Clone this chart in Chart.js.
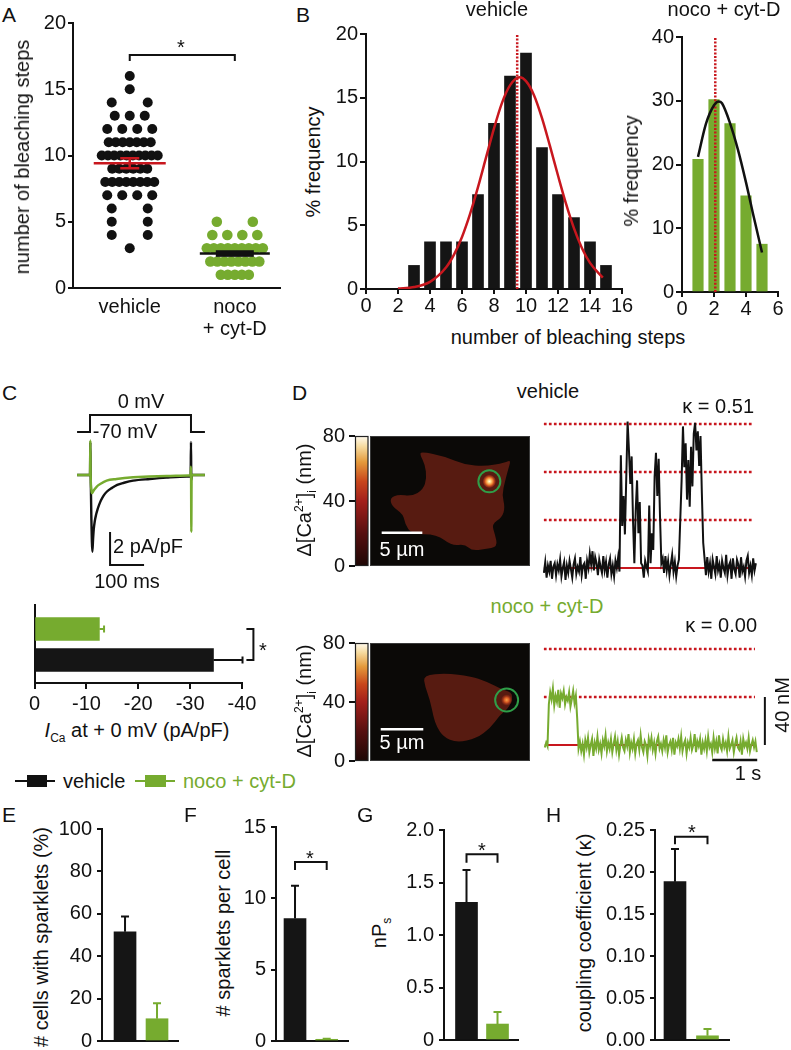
<!DOCTYPE html>
<html lang="en">
<head>
<meta charset="UTF-8">
<title>Bleaching steps, I(Ca) and sparklet coupling</title>
<script src="https://cdn.jsdelivr.net/npm/chart.js"></script>
<style>
    body { margin: 0; background: #fff; }
    #fig {
        position: relative; width: 791px; height: 1050px; overflow: hidden;
        font-family: 'Liberation Sans', Arial, Helvetica, sans-serif; color: #111;
    }
    #fig canvas { position: absolute; z-index: 1; }
    .t, .pl, .leg { position: absolute; z-index: 2; white-space: nowrap; line-height: 1; }
    .t { font-size: 20px; transform: translate(-50%, -50%); }
    .t.l { transform: translate(0, -50%); }
    .t.r { transform: translate(-100%, -50%); }
    .t.rot { transform: translate(-50%, -50%) rotate(-90deg); }
    .pl { font-size: 21px; }
    .g { color: #76ab2f; }
    .w { color: #fff; }
    sub, sup { font-size: 12px; line-height: 0; }
</style>
</head>
<body>
<div id="fig">
    <div class="pl" style="left:2px;top:4px">A</div>
    <div class="pl" style="left:296px;top:4px">B</div>
    <div class="pl" style="left:2px;top:382px">C</div>
    <div class="pl" style="left:292px;top:382px">D</div>
    <div class="pl" style="left:2px;top:804px">E</div>
    <div class="pl" style="left:184px;top:804px">F</div>
    <div class="pl" style="left:357px;top:804px">G</div>
    <div class="pl" style="left:546px;top:804px">H</div>

    <!-- A / B -->
    <div class="t rot" style="left:22px;top:157px">number of bleaching steps</div>
    <div class="t" style="left:181px;top:47px">*</div>
    <div class="t" style="left:497px;top:9px">vehicle</div>
    <div class="t" style="left:724px;top:9px">noco + cyt-D</div>
    <div class="t rot" style="left:313px;top:162px">% frequency</div>
    <div class="t rot" style="left:631px;top:171px">% frequency</div>
    <div class="t" style="left:568px;top:337px">number of bleaching steps</div>

    <!-- C -->
    <div class="t" style="left:141px;top:401px">0 mV</div>
    <div class="t" style="left:125px;top:431px">-70 mV</div>
    <div class="t" style="left:148px;top:546px">2 pA/pF</div>
    <div class="t" style="left:127px;top:581px">100 ms</div>
    <div class="t" style="left:263px;top:650px">*</div>
    <div class="t" style="left:137px;top:730px"><i>I</i><sub>Ca</sub> at + 0 mV (pA/pF)</div>

    <!-- legend -->
    <div class="leg" style="left:15px;top:780px;width:40px;height:2px;background:#111"></div>
    <div class="leg" style="left:27px;top:775px;width:20px;height:12px;background:#111"></div>
    <div class="t l" style="left:63px;top:781px">vehicle</div>
    <div class="leg" style="left:135px;top:780px;width:40px;height:2px;background:#76ab2f"></div>
    <div class="leg" style="left:145px;top:775px;width:21px;height:12px;background:#76ab2f"></div>
    <div class="t l g" style="left:183px;top:781px">noco + cyt-D</div>

    <!-- D -->
    <div class="t" style="left:548px;top:391px">vehicle</div>
    <div class="t r" style="left:754px;top:406px">κ = 0.51</div>
    <div class="t g" style="left:547px;top:606px">noco + cyt-D</div>
    <div class="t r" style="left:757px;top:625px">κ = 0.00</div>
    <div class="t rot" style="left:304px;top:500px">Δ[Ca<sup>2+</sup>]<sub>i</sub> (nm)</div>
    <div class="t rot" style="left:304px;top:701px">Δ[Ca<sup>2+</sup>]<sub>i</sub> (nm)</div>
    <div class="t w" style="left:402px;top:549px">5 µm</div>
    <div class="t w" style="left:402px;top:742px">5 µm</div>
    <div class="t rot" style="left:782px;top:705px">40 nM</div>
    <div class="t" style="left:748px;top:773px">1 s</div>

    <!-- E-H -->
    <div class="t rot" style="left:41px;top:937px"># cells with sparklets (%)</div>
    <div class="t rot" style="left:223px;top:933px"># sparklets per cell</div>
    <div class="t rot" style="left:379px;top:933px">nP<sub>s</sub></div>
    <div class="t rot" style="left:584px;top:933px">coupling coefficient (κ)</div>
    <div class="t" style="left:310px;top:858px">*</div>
    <div class="t" style="left:482px;top:850px">*</div>
    <div class="t" style="left:692px;top:832px">*</div>
</div>

<script>
    // ---------- data ----------
    const groupLabels = ['vehicle', ['noco', '+ cyt-D']];
    const vehicleSteps = [16, 15, 14, 14, 13, 13, 13, 12, 12, 12, 12,
        11, 11, 11, 11, 11, 11, 11,
        10, 10, 10, 10, 10, 10, 10, 10, 10, 10,
        9, 9, 9, 9, 9, 9,
        8, 8, 8, 8, 8, 8, 8, 8,
        7, 7, 7, 7, 6, 6, 5, 5, 4, 4, 3];
    const nocoSteps = [5, 5, 4, 4, 4, 4, 3, 3, 3, 3, 3, 3, 3, 3, 3,
        2, 2, 2, 2, 2, 2, 2, 2, 1, 1, 1, 1, 1];
    const vehicleMeanSem = [9.42, 0.38];
    const nocoMeanSem = [2.6, 0.25];

    const binsVehicle = [3, 4, 5, 6, 7, 8, 9, 10, 11, 12, 13, 14, 15];
    const freqVehicle = [1.85, 3.7, 3.7, 3.7, 7.4, 13.0, 16.7, 18.5, 11.1, 7.4, 5.6, 3.7, 1.85];
    const fitVehicleX = [2, 3, 4, 5, 5.5, 6, 6.5, 7, 7.5, 8, 8.5, 9, 9.6, 10, 10.5, 11, 11.5, 12, 12.5, 13, 13.5, 14, 14.8];
    const fitVehicleY = [0.03, 0.15, 0.56, 1.68, 2.69, 4.08, 5.87, 7.99, 10.3, 12.6, 14.6, 15.97, 16.6, 16.3, 15.2, 13.4, 11.2, 8.9, 6.69, 4.75, 3.2, 2.05, 0.89];
    const meanVehicle = 9.45;

    const binsNoco = [1, 2, 3, 4, 5];
    const freqNoco = [20.8, 30.2, 26.4, 15.1, 7.5];
    const fitNocoX = [1, 1.5, 2, 2.3, 2.5, 3, 3.5, 4, 4.5, 5];
    const fitNocoY = [21.2, 26.4, 29.3, 29.9, 29.6, 26.5, 22.3, 17.2, 11.6, 6.2];
    const meanNoco = 2.08;

    // C: voltage step (mV) and current traces (pA/pF) against time (ms)
    const protoT = [-38, 0, 0, 297, 297, 338];
    const protoV = [-70, -70, 0, 0, -70, -70];
    const vehCurT = [-38, 0, 1, 2, 4, 7, 9, 11, 14, 18, 22, 27, 32, 40, 50, 65, 80, 100, 127, 176, 225, 285, 296, 297, 298, 300, 338];
    const vehCurI = [0, 0, 2.0, 0, -2.6, -4.65, -3.9, -3.3, -2.8, -2.4, -2.1, -1.8, -1.55, -1.25, -1.0, -0.78, -0.6, -0.47, -0.34, -0.24, -0.16, -0.1, -0.1, 2.0, -0.3, 0, 0];
    const nocoCurT = [-38, 0, 1, 2, 4, 6, 9, 14, 20, 30, 49, 78, 127, 225, 290, 296, 297, 298, 299, 338];
    const nocoCurI = [0, 0, 2.1, 0, -0.9, -1.1, -1.0, -0.85, -0.7, -0.55, -0.34, -0.24, -0.14, -0.06, -0.03, 0, 0.5, -3.45, 0, 0];
    const peakCurrent = [-12.5, -34.5];      // noco + cyt-D, vehicle
    const peakCurrentSem = [0.9, 5.6];

    // D: sparklet traces (nM), one sample every 30 ms
    const sampleDt = 0.03;
    const vehTraceStart = 0.02, nocoTraceStart = 0.04;
    const vehTrace = [
        -4, 5, -8, 2, -3, 6, -9, 1, 4, -6, 3, -2, 7, -7, 0, 5, -10, 2, -4, 6,
        -1, -8, 3, 8, -5, 1, -3, 9, -6, 2, 4, -9, 6, 0, 12, 3, 14, -2, 9, 4,
        -6, 7, 1, -4, 10, -2, 5, -8, 3, 8, -5, 2, -7, 6, 0, 9, -3,
        94, 35, 60, 28, 75, 122, 98, 70, 93, 40, 4, 48, 73, 29, 55, 4,
        2, -8, 6, 1, -3,
        52, 4, 29, 15, 76, 96, 60, 91, 43, 4,
        8, -4, 10, -2, 6, -6, 3, 11, -3, 5, -7, 2, 7,
        40, 73, 118, 84, 104, 57, 90, 51, 101, 68, 112, 121, 98, 114, 85, 110, 62, 21, 8,
        -6, 9, -3, 4, -9, 7, 1, -5, 10, -2, 3, -8, 6, 0, -4, 11, -6, 2, 5, -9,
        8, -1, -5, 7, 3, -8, 9, -3, 1, -7, 6, 10, -4, 2, -6, 8, -2, 4];
    const nocoTrace = [
        -2, 2, -1, 34, 44, 38, 47, 33, 41, 36, 46, 31, 43, 39, 45, 34, 40, 37, 44, 32,
        38, 45, 35, 41, 22, -3,
        3, -5, 1, -8, 4, -2, 6, -6, 0, 5, -9, 2,
        -3, 7, -4, 1, -7, 4, -1, 8, -5, 2, -3, 5,
        -6, 1, 7, -4, 3, -8, 0, 6, -2, -5, 4, -1,
        9, -6, 2, -3, 5, -7, 1, 4, -4, 8, -2, -6,
        3, 0, -9, 5, -1, 6, -4, 2, -7, 3, 7, -3,
        1, -5, 4, -2, 8, -6, 0, 3, -4, 6, -8, 2,
        -1, 5, -3, 7, -5, 1, 4, -7, 2, -2, 6, -4,
        0, 9, -6, 3, -1, 5, -8, 2, -3, 4, -5, 7,
        -2, 1, -6, 6, -3, 3, -7, 8, -1, -4, 5, -2,
        2, -5, 7, -3, 0, 4, -6, 1, 6, -2, -4, 3,
        -8, 5, -1, 2, -3, 6, -5, 0, 4, -2, 3, -6];
    const levelsVehicle = [40, 80, 120];
    const levelsNoco = [40, 80];

    // E-H: vehicle, noco + cyt-D
    const cellsPct = [51.5, 10.5], cellsPctSem = [7.2, 7.3];
    const sparkletsPerCell = [8.58, 0.12], sparkletsSem = [2.3, 0.03];
    const nPs = [1.31, 0.152], nPsSem = [0.31, 0.115];
    const kappa = [0.1885, 0.005], kappaSem = [0.039, 0.008];

    // ---------- helpers ----------
    const INK = '#111111', GREEN = '#76ab2f', RED = '#c8171e';
    Chart.defaults.font.family = "'Liberation Sans', Arial, Helvetica, sans-serif";
    Chart.defaults.font.size = 20;
    Chart.defaults.color = INK;
    Chart.defaults.elements.point.radius = 0;

    const xy = (xs, ys) => xs.map((x, i) => ({ x: x, y: ys[i] }));
    const series = (start, arr) => arr.map((v, i) => ({ x: start + i * sampleDt, y: v }));

    // chart area given in page pixels, m = [left, top, right, bottom] room for axes
    function place(area, m, config) {
        const [L, T, R, B] = m;
        const cv = document.createElement('canvas');
        document.getElementById('fig').appendChild(cv);
        const w = area[2] - area[0] + L + R, h = area[3] - area[1] + T + B;
        cv.width = w; cv.height = h;
        cv.style.left = (area[0] - L) + 'px';
        cv.style.top = (area[1] - T) + 'px';
        cv.style.width = w + 'px';
        cv.style.height = h + 'px';
        const o = config.options;
        const xs = o.scales.x, ys = o.scales.y;
        const xShown = xs.display !== false, yShown = ys.display !== false;
        if (xShown) xs.afterFit = s => { s.height = B; };
        if (yShown) ys.afterFit = s => { s.width = L; };
        o.layout = { padding: { left: yShown ? 0 : L, top: T, right: R, bottom: xShown ? 0 : B } };
        o.responsive = false;
        o.animation = false;
        o.events = [];
        o.plugins = Object.assign({ legend: { display: false }, tooltip: { enabled: false } }, o.plugins);
        return new Chart(cv, config);
    }

    function ax(o) {
        const s = {
            type: 'linear', min: o.min, max: o.max, offset: false, reverse: !!o.reverse,
            border: { display: o.line !== false, color: INK, width: 2 },
            grid: { display: true, drawOnChartArea: false, drawTicks: !!o.tick, tickLength: o.tick || 0,
                    color: INK, lineWidth: 2, offset: false },
            ticks: { display: o.labels !== false, padding: o.pad || 0, color: INK,
                     maxRotation: 0, autoSkip: false, font: { size: 20, lineHeight: 1.1 } }
        };
        if (o.step) s.ticks.stepSize = o.step;
        if (o.fmt) s.ticks.callback = o.fmt;
        if (o.at) s.afterBuildTicks = sc => { sc.ticks = o.at.map(v => ({ value: v })); };
        return s;
    }
    const hidden = (min, max) => ({ type: 'linear', display: false, min: min, max: max });

    function rowSpacing(n) {
        if (n === 2) return 36;
        if (n <= 4) return 15;
        return Math.min(7, 56 / (n - 1));
    }
    function swarm(values, group, pxPerUnit) {
        const count = {}, seen = {};
        values.forEach(v => { count[v] = (count[v] || 0) + 1; });
        return values.map(v => {
            const n = count[v];
            const k = seen[v] = (seen[v] === undefined ? 0 : seen[v] + 1);
            return { x: group + (k - (n - 1) / 2) * rowSpacing(n) / pxPerUnit, y: v };
        });
    }

    // ---------- plugins ----------
    function drawBracket(ctx, cat, val, b, horiz) {
        const p0 = cat.getPixelForValue(b.from), p1 = cat.getPixelForValue(b.to);
        const pa = val.getPixelForValue(b.at);
        ctx.strokeStyle = INK; ctx.lineWidth = 2;
        ctx.beginPath();
        if (horiz) {
            ctx.moveTo(pa - b.leg, p0); ctx.lineTo(pa, p0); ctx.lineTo(pa, p1); ctx.lineTo(pa - b.leg, p1);
        } else {
            ctx.moveTo(p0, pa + b.leg); ctx.lineTo(p0, pa); ctx.lineTo(p1, pa); ctx.lineTo(p1, pa + b.leg);
        }
        ctx.stroke();
    }

    const barErrors = {
        id: 'barErrors',
        afterDatasetsDraw(chart, args, o) {
            const ctx = chart.ctx, horiz = chart.options.indexAxis === 'y';
            const val = horiz ? chart.scales.x : chart.scales.y;
            const cat = horiz ? chart.scales.y : chart.scales.x;
            const meta = chart.getDatasetMeta(0), data = chart.data.datasets[0].data;
            ctx.save();
            ctx.lineWidth = 2;
            meta.data.forEach((bar, i) => {
                const v = horiz ? data[i].x : data[i].y;
                const tip = val.getPixelForValue(v + Math.sign(v) * o.errors[i]);
                ctx.strokeStyle = o.colors[i];
                ctx.beginPath();
                if (horiz) {
                    ctx.moveTo(bar.x, bar.y); ctx.lineTo(tip, bar.y);
                    ctx.moveTo(tip, bar.y - o.cap); ctx.lineTo(tip, bar.y + o.cap);
                } else {
                    ctx.moveTo(bar.x, bar.y); ctx.lineTo(bar.x, tip);
                    ctx.moveTo(bar.x - o.cap, tip); ctx.lineTo(bar.x + o.cap, tip);
                }
                ctx.stroke();
            });
            if (o.bracket) drawBracket(ctx, cat, val, o.bracket, horiz);
            ctx.restore();
        }
    };

    const dotSummary = {
        id: 'dotSummary',
        afterDatasetsDraw(chart, args, o) {
            const { ctx, scales: { x, y } } = chart;
            ctx.save();
            o.groups.forEach((g, i) => {
                const cx = x.getPixelForValue(i);
                const ym = y.getPixelForValue(g.mean);
                const lo = y.getPixelForValue(g.mean - g.sem), hi = y.getPixelForValue(g.mean + g.sem);
                ctx.strokeStyle = g.color; ctx.fillStyle = g.color; ctx.lineWidth = 2.5;
                ctx.beginPath(); ctx.moveTo(cx - g.half, ym); ctx.lineTo(cx + g.half, ym); ctx.stroke();
                if (g.box) {
                    ctx.fillRect(cx - g.cap, hi, 2 * g.cap, lo - hi);
                } else {
                    ctx.beginPath();
                    ctx.moveTo(cx, lo); ctx.lineTo(cx, hi);
                    ctx.moveTo(cx - g.cap, lo); ctx.lineTo(cx + g.cap, lo);
                    ctx.moveTo(cx - g.cap, hi); ctx.lineTo(cx + g.cap, hi);
                    ctx.stroke();
                }
            });
            drawBracket(ctx, x, y, o.bracket, false);
            ctx.restore();
        }
    };

    // micrograph: colour bar + cell outline (fractions of the image box)
    const cellOutlineVehicle = [[.319, .120], [.469, .158], [.594, .221], [.719, .234], [.844, .206], [.881, .183],
        [.863, .260], [.844, .349], [.825, .450], [.844, .550], [.825, .626], [.761, .679], [.781, .756], [.798, .853],
        [.719, .870], [.636, .883], [.594, .832], [.511, .845], [.417, .756], [.261, .756], [.219, .679], [.208, .603],
        [.136, .540], [.125, .476], [.177, .450], [.261, .463], [.333, .412], [.354, .323], [.344, .221], [.313, .145]];
    const cellOutlineNoco = [[.333, .271], [.479, .257], [.625, .280], [.729, .328], [.833, .398], [.896, .426],
        [.875, .540], [.8125, .610], [.75, .723], [.667, .808], [.542, .845], [.458, .794], [.417, .709],
        [.396, .625], [.375, .483], [.344, .370]];

    const cellImage = {
        id: 'cellImage',
        beforeDatasetsDraw(chart, args, o) {
            const { ctx, chartArea: a } = chart;
            const h = a.bottom - a.top;
            ctx.save();
            const cb = ctx.createLinearGradient(0, a.bottom, 0, a.top);
            [[0, '#1e0705'], [0.25, '#561010'], [0.5, '#a3201b'], [0.65, '#c8461c'],
             [0.8, '#e49a3c'], [0.92, '#f6dba0'], [1, '#fffbf0']].forEach(s => cb.addColorStop(s[0], s[1]));
            ctx.fillStyle = cb;
            ctx.fillRect(a.left, a.top, 13, h);
            ctx.strokeStyle = '#222'; ctx.lineWidth = 1.2;
            ctx.strokeRect(a.left + 0.5, a.top + 0.5, 12.5, h - 1);

            const ix = a.left + 15, iw = a.right - ix;
            ctx.fillStyle = '#0b0907';
            ctx.fillRect(ix, a.top, iw, h);
            ctx.strokeStyle = '#3a3a3a'; ctx.lineWidth = 1;
            ctx.strokeRect(ix + 0.5, a.top + 0.5, iw - 1, h - 1);

            const pts = o.outline.map(p => [ix + p[0] * iw, a.top + p[1] * h]);
            const mid = (p, q) => [(p[0] + q[0]) / 2, (p[1] + q[1]) / 2];
            ctx.beginPath();
            let m0 = mid(pts[pts.length - 1], pts[0]);
            ctx.moveTo(m0[0], m0[1]);
            pts.forEach((p, i) => {
                const m = mid(p, pts[(i + 1) % pts.length]);
                ctx.quadraticCurveTo(p[0], p[1], m[0], m[1]);
            });
            ctx.closePath();
            ctx.fillStyle = '#571b11';
            ctx.fill();

            const sx = ix + o.spot[0] * iw, sy = a.top + o.spot[1] * h;
            const rg = ctx.createRadialGradient(sx, sy, 0, sx, sy, o.spotR);
            const stops = o.bright
                ? [[0, '#fffbe8'], [0.25, '#ffd27a'], [0.55, '#e8742a'], [0.85, 'rgba(170,50,25,0.6)'], [1, 'rgba(87,27,17,0)']]
                : [[0, '#f7a24a'], [0.4, '#d85a22'], [0.8, 'rgba(150,45,22,0.5)'], [1, 'rgba(87,27,17,0)']];
            stops.forEach(s => rg.addColorStop(s[0], s[1]));
            ctx.fillStyle = rg;
            ctx.beginPath(); ctx.arc(sx, sy, o.spotR, 0, Math.PI * 2); ctx.fill();
            ctx.strokeStyle = '#2f9e48'; ctx.lineWidth = 2;
            ctx.beginPath(); ctx.arc(sx, sy, o.ring, 0, Math.PI * 2); ctx.stroke();

            ctx.strokeStyle = '#fff'; ctx.lineWidth = 2.5;
            ctx.beginPath();
            ctx.moveTo(ix + o.bar[0] * iw, a.top + o.bar[2] * h);
            ctx.lineTo(ix + o.bar[1] * iw, a.top + o.bar[2] * h);
            ctx.stroke();
            ctx.restore();
        }
    };

    // ---------- A: dot plot ----------
    const aRange = [-0.54, 1.43], aArea = [73, 23, 280, 288];
    const aPx = (aArea[2] - aArea[0]) / (aRange[1] - aRange[0]);
    place(aArea, [45, 16, 8, 55], {
        type: 'scatter',
        data: { datasets: [
            { data: swarm(vehicleSteps, 0, aPx), backgroundColor: INK, borderWidth: 0, pointRadius: 5 },
            { data: swarm(nocoSteps, 1, aPx), backgroundColor: GREEN, borderWidth: 0, pointRadius: 5.3 }
        ]},
        options: {
            scales: {
                x: ax({ min: aRange[0], max: aRange[1], pad: 8, at: [0, 1], fmt: (v, i) => groupLabels[i] }),
                y: ax({ min: 0, max: 20, step: 5, tick: 5, pad: 2 })
            },
            plugins: { dotSummary: {
                groups: [
                    { mean: vehicleMeanSem[0], sem: vehicleMeanSem[1], color: RED, half: 36, cap: 9.5 },
                    { mean: nocoMeanSem[0], sem: nocoMeanSem[1], color: INK, half: 35, cap: 19, box: true }
                ],
                bracket: { from: 0, to: 1, at: 17.58, leg: 6 }
            } }
        },
        plugins: [dotSummary]
    });

    // ---------- B: histograms ----------
    function histogram(area, m, bins, freq, barColor, barW, fitX, fitY, fitColor, mean, xr, yr) {
        place(area, m, {
            type: 'bar',
            data: { datasets: [
                { type: 'line', data: xy(fitX, fitY), borderColor: fitColor, borderWidth: 2.5,
                  cubicInterpolationMode: 'monotone', order: 0 },
                { type: 'line', data: [{ x: mean, y: 0 }, { x: mean, y: yr[1] }], borderColor: RED,
                  borderWidth: 2.5, borderDash: [2, 1.6], order: 1 },
                { type: 'bar', data: xy(bins, freq), backgroundColor: barColor, barThickness: barW, order: 2 }
            ]},
            options: { scales: {
                x: ax({ min: xr[0], max: xr[1], step: 2, tick: 5, pad: 1 }),
                y: ax({ min: yr[0], max: yr[1], step: yr[2], tick: 6, pad: 2 })
            } }
        });
    }
    histogram([366, 34, 622, 289], [40, 16, 16, 30], binsVehicle, freqVehicle, '#151515', 11,
        fitVehicleX, fitVehicleY, RED, meanVehicle, [0, 16], [0, 20, 5]);
    histogram([682, 37, 778, 292], [40, 16, 12, 30], binsNoco, freqNoco, GREEN, 10.5,
        fitNocoX, fitNocoY, INK, meanNoco, [0, 6], [0, 40, 10]);

    // ---------- C: current traces ----------
    place([77, 398, 210, 570], [0, 0, 0, 0], {
        type: 'line',
        data: { datasets: [
            { data: xy(nocoCurT, nocoCurI), borderColor: GREEN, borderWidth: 2.4, cubicInterpolationMode: 'monotone', order: 0 },
            { data: xy(vehCurT, vehCurI), borderColor: INK, borderWidth: 2.4, cubicInterpolationMode: 'monotone', order: 1 },
            { data: xy(protoT, protoV), yAxisID: 'yv', borderColor: INK, borderWidth: 2, order: 2 },
            { data: [{ x: 59, y: -3.45 }, { x: 59, y: -5.45 }, { x: 159, y: -5.45 }], borderColor: INK, borderWidth: 2, order: 3 }
        ]},
        options: { scales: { x: hidden(-38.24, 352.94), y: hidden(-5.758, 4.667), yv: hidden(-638.2, 70) } }
    });

    // C: peak current bars
    place([33, 605, 242, 683], [8, 10, 40, 35], {
        type: 'bar',
        data: { datasets: [{ data: peakCurrent.map((v, i) => ({ x: v, y: i })), backgroundColor: [GREEN, '#151515'], barThickness: 23 }] },
        options: {
            indexAxis: 'y',
            scales: {
                x: ax({ min: -40, max: 0, reverse: true, step: 10, tick: 6, pad: 4 }),
                y: ax({ min: -0.774, max: 1.742, reverse: true, labels: false })
            },
            plugins: { barErrors: { errors: peakCurrentSem, colors: [GREEN, INK], cap: 3.5,
                                    bracket: { from: 0, to: 1, at: -42.2, leg: 7 } } }
        },
        plugins: [barErrors]
    });

    // ---------- D: micrographs ----------
    function micrograph(area, opts) {
        place(area, [34, 16, 4, 16], {
            type: 'scatter',
            data: { datasets: [{ data: [] }] },
            options: {
                scales: { x: hidden(0, 1), y: ax({ min: 0, max: 80, step: 40, tick: 6, pad: 4, line: false }) },
                plugins: { cellImage: opts }
            },
            plugins: [cellImage]
        });
    }
    micrograph([355, 436, 530, 566], { outline: cellOutlineVehicle, spot: [.746, .349], spotR: 7, ring: 11, bright: true, bar: [.073, .327, .745] });
    micrograph([355, 643, 530, 761], { outline: cellOutlineNoco, spot: [.854, .483], spotR: 6, ring: 11.5, bright: false, bar: [.067, .333, .731] });

    // D: sparklet traces
    const dotted = (lv, x1) => ({ data: [{ x: 0.02, y: lv }, { x: x1, y: lv }], borderColor: RED, borderWidth: 2.5, borderDash: [2.7, 2.3], order: 3 });
    place([543, 410, 770, 585], [0, 0, 0, 0], {
        type: 'line',
        data: { datasets: [
            { data: series(vehTraceStart, vehTrace), borderColor: INK, borderWidth: 2, order: 0 },
            { data: [{ x: 0.02, y: 0 }, { x: 4.73, y: 0 }], borderColor: RED, borderWidth: 2, order: 1 },
            ...levelsVehicle.map(lv => dotted(lv, 4.67))
        ]},
        options: { scales: { x: hidden(0, 5.044), y: hidden(-14.17, 131.67) } }
    });
    place([543, 630, 770, 775], [0, 0, 0, 0], {
        type: 'line',
        data: { datasets: [
            { data: series(nocoTraceStart, nocoTrace), borderColor: GREEN, borderWidth: 2, order: 0 },
            { data: [{ x: 0.04, y: 0 }, { x: 4.72, y: 0 }], borderColor: RED, borderWidth: 2, order: 1 },
            { data: [{ x: 4.93, y: 0 }, { x: 4.93, y: 40 }], borderColor: INK, borderWidth: 2, order: 2 },
            { data: [{ x: 3.76, y: -12.5 }, { x: 4.76, y: -12.5 }], borderColor: INK, borderWidth: 2.5, order: 2 },
            ...levelsNoco.map(lv => dotted(lv, 4.71))
        ]},
        options: { scales: { x: hidden(0, 5.044), y: hidden(-25, 95.83) } }
    });

    // ---------- E-H: summary bars ----------
    function summary(area, m, xr, values, sems, yOpts, bracket) {
        place(area, m, {
            type: 'bar',
            data: { datasets: [{ data: values.map((v, i) => ({ x: i, y: v })), backgroundColor: ['#151515', GREEN], barThickness: 22 }] },
            options: {
                scales: { x: ax({ min: xr[0], max: xr[1], labels: false }), y: ax(yOpts) },
                plugins: { barErrors: { errors: sems, colors: [INK, GREEN], cap: 4, bracket: bracket } }
            },
            plugins: [barErrors]
        });
    }
    summary([102, 829, 178, 1041], [50, 20, 8, 20], [-0.72, 1.656], cellsPct, cellsPctSem,
        { min: 0, max: 100, step: 20, tick: 5, pad: 5 }, null);
    summary([276, 827, 348, 1041], [40, 20, 8, 20], [-0.6, 1.672], sparkletsPerCell, sparkletsSem,
        { min: 0, max: 15, step: 5, tick: 5, pad: 5 }, { from: 0, to: 1, at: 12.55, leg: 8 });
    summary([444, 830, 518, 1040], [45, 20, 8, 20], [-0.726, 1.661], nPs, nPsSem,
        { min: 0, max: 2, step: 0.5, tick: 5, pad: 5, fmt: v => v === 0 ? '0' : v.toFixed(1) }, { from: 0, to: 1, at: 1.77, leg: 8.5 });
    summary([655, 830, 729, 1040], [52, 20, 8, 20], [-0.615, 1.662], kappa, kappaSem,
        { min: 0, max: 0.25, step: 0.05, tick: 5, pad: 5, fmt: v => v.toFixed(2) }, { from: 0, to: 1, at: 0.242, leg: 7.5 });
</script>
</body>
</html>
